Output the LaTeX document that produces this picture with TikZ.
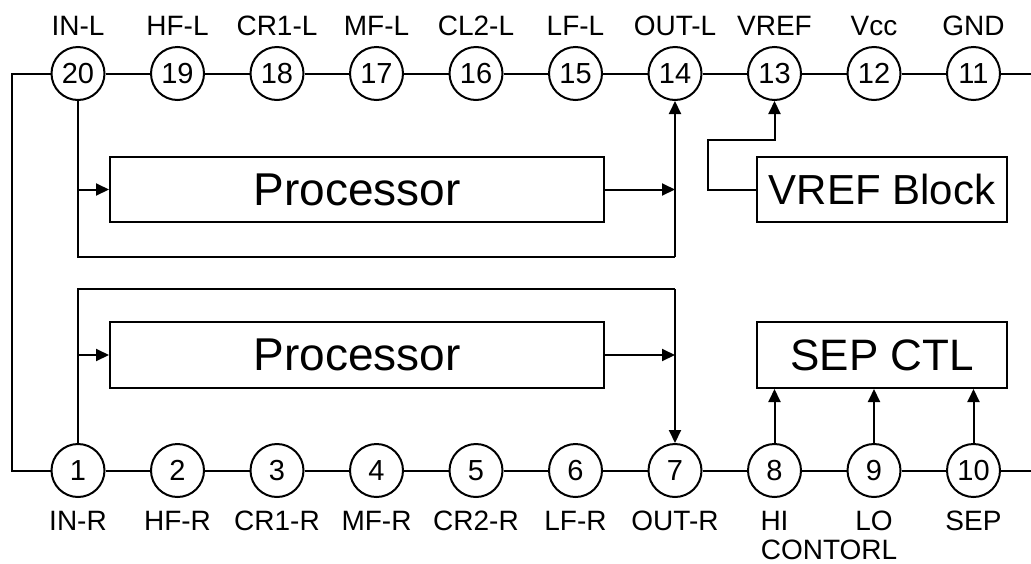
\documentclass[tikz,border=0pt]{standalone}
\usepackage{fontspec}
\setmainfont{Liberation Sans}
\usetikzlibrary{arrows.meta,calc}
\tikzset{
  pin/.style={circle,draw,line width=2pt,minimum size=53pt,inner sep=0pt,font=\fontsize{29}{31}\selectfont},
  lab/.style={anchor=base,inner sep=0pt,font=\fontsize{28}{30}\selectfont},
  blk/.style={draw,line width=2pt,inner sep=0pt,anchor=center},
  wire/.style={line width=2pt},
  arr/.style={line width=2pt,-{Triangle[length=13pt,width=12pt]}}
}
\begin{document}
\begin{tikzpicture}[x=1pt,y=-1pt]
\useasboundingbox (0,0) rectangle (1031,563);
% top pins 20..11
\foreach \n [count=\i from 0] in {20,19,18,17,16,15,14,13,12,11}{
  \node[pin] (p\n) at ({78+99.5*\i},73.5) {\n};
}
\foreach \n [count=\i from 0] in {1,2,3,4,5,6,7,8,9,10}{
  \node[pin] (p\n) at ({78+99.5*\i},470.5) {\n};
}
% top labels
\foreach \n/\t in {20/IN-L,19/HF-L,18/CR1-L,17/MF-L,16/CL2-L,15/LF-L,14/OUT-L,13/VREF,12/Vcc,11/GND}{
  \node[lab] (t\n) at (p\n |- 0,35) {\t};
}
\foreach \n/\t in {1/IN-R,2/HF-R,3/CR1-R,4/MF-R,5/CR2-R,6/LF-R,7/OUT-R,8/HI,9/LO,10/SEP}{
  \node[lab] (b\n) at (p\n |- 0,530) {\t};
}
\node[lab] (ctl) at (829,559) {CONTORL};
% blocks
\node[blk,minimum width=494pt,minimum height=65pt,font=\fontsize{46}{48}\selectfont] (proc1) at (357,189.5) {Processor};
\node[blk,minimum width=494pt,minimum height=66pt,font=\fontsize{46}{48}\selectfont] (proc2) at (357,355) {Processor};
\node[blk,minimum width=250pt,minimum height=65pt,font=\fontsize{42}{44}\selectfont] (vref) at (882,189.5) {VREF Block};
\node[blk,minimum width=250pt,minimum height=66pt,font=\fontsize{44}{46}\selectfont] (sep) at (882,355) {SEP CTL};
% coordinates
\coordinate (lt) at (12,73.5);
\coordinate (lb) at (12,470.5);
\coordinate (rt) at (1031,73.5);
\coordinate (rb) at (1031,470.5);
\coordinate (c1) at (675,257);
\coordinate (c2) at (675,289);
\coordinate (v1) at (708,140);
% pin chains
\draw[wire] (p20)--(p19)--(p18)--(p17)--(p16)--(p15)--(p14)--(p13)--(p12)--(p11)--(rt);
\draw[wire] (p1)--(p2)--(p3)--(p4)--(p5)--(p6)--(p7)--(p8)--(p9)--(p10)--(rb);
\draw[wire] (p20)--(lt)--(lb)--(p1);
% left channel
\draw[wire] (p20.south) |- (c1);
\draw[arr] (c1) -- (p14.south);
\draw[arr] (p20.south |- proc1.west) -- (proc1.west);
\draw[arr] (proc1.east) -- (proc1.east -| c1);
% vref
\draw[arr] (vref.west) -| (v1) -| (p13.south);
% right channel
\draw[wire] (p1.north) |- (c2);
\draw[arr] (c2) -- (p7.north);
\draw[arr] (p1.north |- proc2.west) -- (proc2.west);
\draw[arr] (proc2.east) -- (proc2.east -| c2);
% sep ctl
\draw[arr] (p8.north) -- (p8.north |- sep.south);
\draw[arr] (p9.north) -- (p9.north |- sep.south);
\draw[arr] (p10.north) -- (p10.north |- sep.south);
\end{tikzpicture}
\end{document}
